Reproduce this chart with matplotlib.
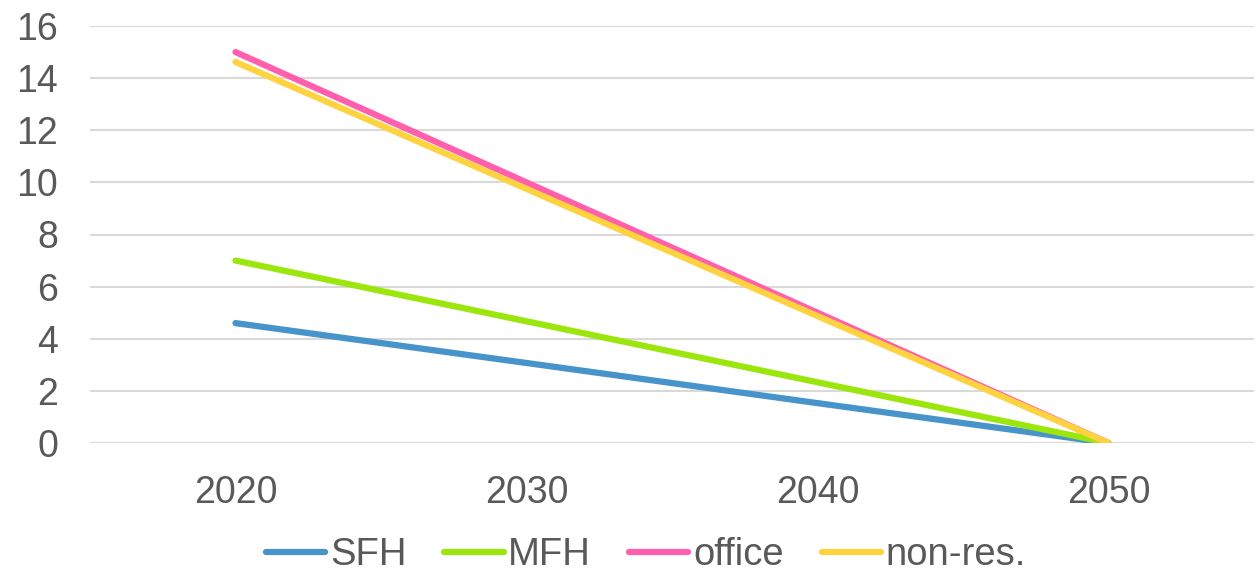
import matplotlib
matplotlib.use("Agg")
import matplotlib.pyplot as plt

years = ["2020", "2030", "2040", "2050"]
sfh = [4.6, 3.07, 1.53, 0.0]
mfh = [7.0, 4.67, 2.33, 0.0]
office = [15.0, 10.0, 5.0, 0.0]
non_res = [14.62, 9.75, 4.87, 0.0]

series = [
    ("SFH", sfh, "#4694c9"),
    ("MFH", mfh, "#9be60c"),
    ("office", office, "#ff5fad"),
    ("non-res.", non_res, "#ffd23f"),
]

plt.rcParams["font.family"] = ["Liberation Sans", "DejaVu Sans"]
text_color = "#595959"

fig = plt.figure(figsize=(12.6, 5.72), dpi=100)
ax = fig.add_axes([90 / 1260, 1 - 443 / 572, (1254 - 90) / 1260, (443 - 26) / 572])

x = list(range(len(years)))
for name, vals, color in series:
    ax.plot(x, vals, color=color, lw=4.5, solid_capstyle="round", label=name, zorder=3)

ax.set_xlim(-0.5, len(years) - 0.5)
ax.set_ylim(0, 16)
ax.set_yticks(range(0, 17, 2))
ax.set_xticks(x)
ax.set_xticklabels(years)
ax.grid(axis="y", color="#d9d9d9", lw=1.5, zorder=0)
ax.set_axisbelow(True)
for s in ax.spines.values():
    s.set_visible(False)
ax.tick_params(axis="both", length=0, labelsize=27, labelcolor=text_color)
ax.tick_params(axis="y", pad=23)
ax.tick_params(axis="x", pad=23)

leg = fig.legend(loc="center", bbox_to_anchor=(646 / 1260, 1 - 555 / 572), ncol=4, frameon=False,
                 fontsize=27.5, handlelength=1.55, handletextpad=0.12, columnspacing=1.0,
                 labelcolor=text_color)

fig.savefig("out.png", dpi=100)
